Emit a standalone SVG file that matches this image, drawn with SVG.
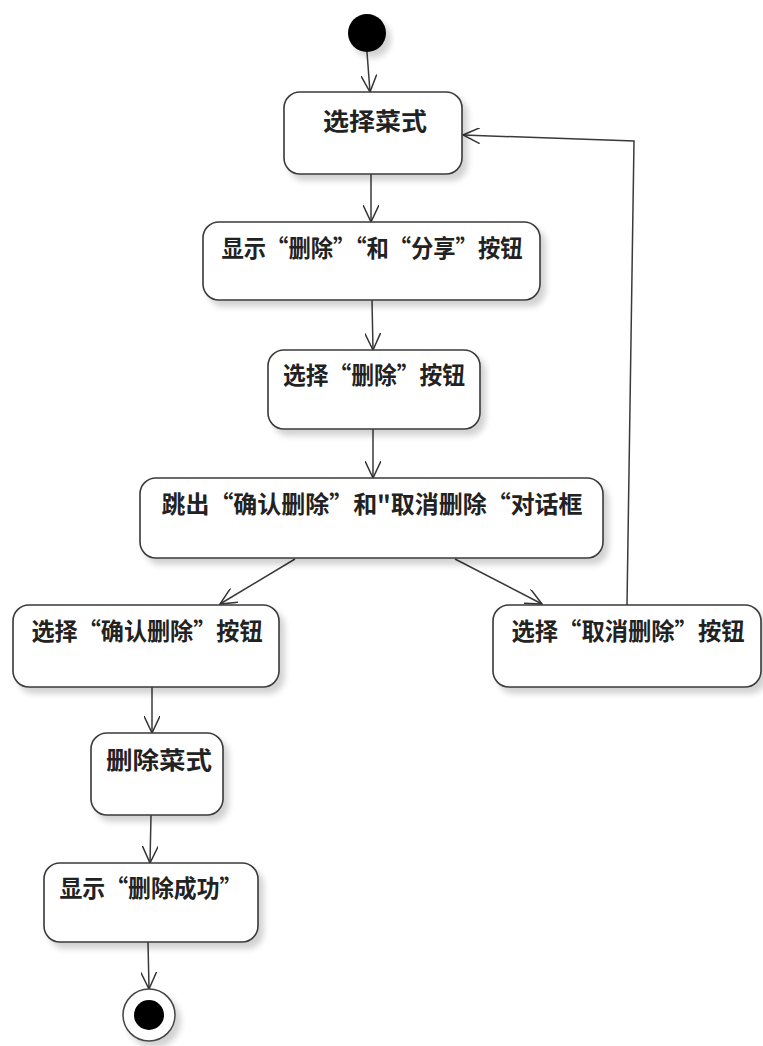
<svg xmlns="http://www.w3.org/2000/svg" width="763" height="1046" viewBox="0 0 763 1046">
<defs>
<filter id="sh" x="-10%" y="-10%" width="130%" height="140%">
<feGaussianBlur in="SourceAlpha" stdDeviation="3"/>
<feOffset dx="5" dy="6" result="b"/>
<feComponentTransfer><feFuncA type="linear" slope="0.18"/></feComponentTransfer>
<feMerge><feMergeNode/><feMergeNode in="SourceGraphic"/></feMerge>
</filter>
<marker id="arr" viewBox="0 0 18 16" refX="17" refY="8" markerWidth="18" markerHeight="16" markerUnits="userSpaceOnUse" orient="auto">
<path d="M0,0 L17,8 L0,16" fill="none" stroke="#333" stroke-width="1.5"/>
</marker>
</defs>
<style>
.box{fill:#fff;stroke:#3a3a3a;stroke-width:1.6;filter:url(#sh)}
.t{font-family:"Noto Sans CJK SC","Microsoft YaHei",sans-serif;font-weight:bold;font-size:24px;fill:#222;text-anchor:middle;dominant-baseline:central}
.c{fill:none;stroke:#3a3a3a;stroke-width:1.5;marker-end:url(#arr)}
</style>
<rect width="763" height="1046" fill="#fff"/>
<g id="connectors">
<line class="c" x1="367" y1="52" x2="370" y2="92"/>
<line class="c" x1="371" y1="174" x2="371" y2="222"/>
<line class="c" x1="372" y1="300" x2="373" y2="350"/>
<line class="c" x1="373" y1="429" x2="373" y2="478"/>
<line class="c" x1="295" y1="559" x2="220" y2="604"/>
<line class="c" x1="455" y1="559" x2="542" y2="604"/>
<line class="c" x1="152" y1="687" x2="152" y2="733"/>
<line class="c" x1="151" y1="815" x2="150" y2="863"/>
<line class="c" x1="148" y1="942" x2="149" y2="989"/>
<polyline class="c" points="627,605 634,141 463,135"/>
</g>
<g id="start"><circle cx="367" cy="33" r="19" fill="#000" filter="url(#sh)"/></g>
<g id="n1"><rect class="box" x="284" y="92" width="178" height="82" rx="16"/><text class="t" x="375" y="119" textLength="104" lengthAdjust="spacingAndGlyphs">选择菜式</text></g>
<g id="n2"><rect class="box" x="203" y="222" width="337" height="78" rx="16"/><text class="t" x="372" y="246" textLength="301" lengthAdjust="spacingAndGlyphs">显示“删除”“和“分享”按钮</text></g>
<g id="n3"><rect class="box" x="268" y="350" width="212" height="79" rx="16"/><text class="t" x="374" y="373" textLength="182" lengthAdjust="spacingAndGlyphs">选择“删除”按钮</text></g>
<g id="n4"><rect class="box" x="140" y="478" width="463" height="80" rx="16"/><text class="t" x="372" y="502" textLength="421" lengthAdjust="spacingAndGlyphs">跳出“确认删除”和"取消删除“对话框</text></g>
<g id="n5"><rect class="box" x="13" y="605" width="266" height="82" rx="16"/><text class="t" x="147" y="629" textLength="231" lengthAdjust="spacingAndGlyphs">选择“确认删除”按钮</text></g>
<g id="n6"><rect class="box" x="493" y="605" width="268" height="82" rx="16"/><text class="t" x="628" y="629" textLength="233" lengthAdjust="spacingAndGlyphs">选择“取消删除”按钮</text></g>
<g id="n7"><rect class="box" x="91" y="733" width="132" height="82" rx="16"/><text class="t" x="159" y="758" textLength="106" lengthAdjust="spacingAndGlyphs">删除菜式</text></g>
<g id="n8"><rect class="box" x="44" y="863" width="214" height="79" rx="16"/><text class="t" x="151" y="886" textLength="183" lengthAdjust="spacingAndGlyphs">显示“删除成功”</text></g>
<g id="end"><circle cx="149" cy="1015" r="26" fill="#fff" stroke="#444" stroke-width="1.5" filter="url(#sh)"/><circle cx="149" cy="1015" r="15" fill="#000"/></g>
</svg>
